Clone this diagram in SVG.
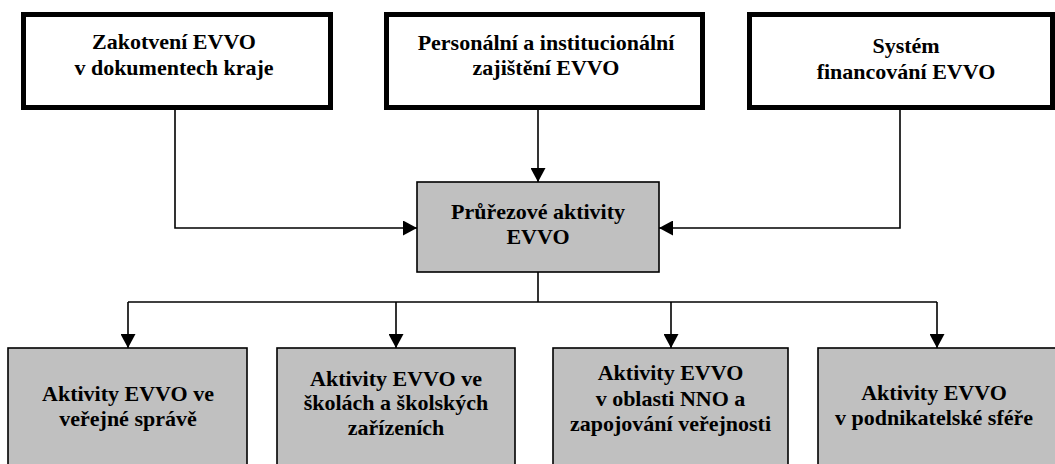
<svg xmlns="http://www.w3.org/2000/svg" width="1055" height="464" viewBox="0 0 1055 464">
<style>
.top{fill:#fff;stroke:#000;stroke-width:5}
.grey{fill:#c0c0c0;stroke:#000;stroke-width:1.6}
text{font-family:'Liberation Serif','Tinos','DejaVu Serif',serif;font-weight:bold;font-size:22px;fill:#000;text-anchor:middle}
.c{fill:none;stroke:#000;stroke-width:1.6}
</style>
<defs>
<marker id="ah" markerUnits="userSpaceOnUse" markerWidth="15" markerHeight="15" refX="14" refY="7.5" orient="auto">
<path d="M0,0 L14,7.5 L0,15 z" fill="#000"/>
</marker>
</defs>
<rect width="1055" height="464" fill="#fff"/>
<g id="connectors">
<path class="c" d="M175,110 V228 H417" marker-end="url(#ah)"/>
<path class="c" d="M538,110 V182" marker-end="url(#ah)"/>
<path class="c" d="M900,110 V228 H659" marker-end="url(#ah)"/>
<path class="c" d="M538,272 V302"/>
<path class="c" d="M128,302 H937"/>
<path class="c" d="M128,302 V348" marker-end="url(#ah)"/>
<path class="c" d="M396,302 V348" marker-end="url(#ah)"/>
<path class="c" d="M671,302 V348" marker-end="url(#ah)"/>
<path class="c" d="M937,302 V348" marker-end="url(#ah)"/>
</g>
<g id="n1" font-family="Liberation Serif, serif">
<rect class="top" x="23.5" y="14.5" width="307" height="93"/>
<text x="174" y="49">Zakotvení EVVO</text>
<text x="174" y="75">v dokumentech kraje</text>
</g>
<g id="n2">
<rect class="top" x="386.5" y="14.5" width="316" height="93"/>
<text x="546" y="50">Personální a institucionální</text>
<text x="546" y="75">zajištění EVVO</text>
</g>
<g id="n3">
<rect class="top" x="749.5" y="14.5" width="303" height="93"/>
<text x="906" y="53">Systém</text>
<text x="906" y="79">financování EVVO</text>
</g>
<g id="center">
<rect class="grey" x="417" y="182" width="242" height="90"/>
<text x="538" y="219">Průřezové aktivity</text>
<text x="538" y="244">EVVO</text>
</g>
<g id="b1">
<rect class="grey" x="8" y="348" width="239" height="130"/>
<text x="128" y="401">Aktivity EVVO ve</text>
<text x="128" y="426">veřejné správě</text>
</g>
<g id="b2">
<rect class="grey" x="277" y="348" width="238" height="130"/>
<text x="396" y="386">Aktivity EVVO ve</text>
<text x="396" y="410">školách a školských</text>
<text x="396" y="435">zařízeních</text>
</g>
<g id="b3">
<rect class="grey" x="553" y="348" width="235" height="130"/>
<text x="670.5" y="380">Aktivity EVVO</text>
<text x="670.5" y="406">v oblasti NNO a</text>
<text x="670.5" y="431">zapojování veřejnosti</text>
</g>
<g id="b4">
<rect class="grey" x="818" y="348" width="240" height="130"/>
<text x="934" y="400">Aktivity EVVO</text>
<text x="934" y="425">v podnikatelské sféře</text>
</g>
</svg>
